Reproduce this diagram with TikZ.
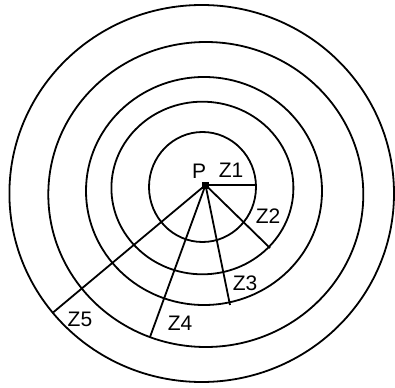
\documentclass[tikz,border=0pt]{standalone}
\usepackage{fontspec}
\setmainfont{Liberation Sans}
\begin{document}
\begin{tikzpicture}[x=1pt,y=-1pt,
  ring/.style={line width=1.8pt},
  ray/.style={line width=1.8pt},
  lab/.style={font=\fontsize{21}{21}\selectfont, inner sep=0pt},
  centre/.style={fill=black, draw=none, minimum size=7pt, inner sep=0pt}]
\useasboundingbox (0,0) rectangle (395,387);
\fill[white] (0,0) rectangle (395,387);
% rings
\draw[ring] (202.5,187) ellipse [x radius=53.5pt, y radius=55pt];
\draw[ring] (202.4,188) ellipse [x radius=91pt, y radius=86.3pt];
\draw[ring] (204,191) ellipse [x radius=118pt, y radius=114pt];
\draw[ring] (205.8,194.5) ellipse [x radius=157.5pt, y radius=152.5pt];
\draw[ring] (201.7,193.5) ellipse [x radius=192.3pt, y radius=188.5pt];
% centre
\node[centre] (P) at (205.5,185) {};
\coordinate (e1) at (256.5,185);
\coordinate (e2) at (270,248);
\coordinate (e3) at (230,305);
\coordinate (e4) at (150,337);
\coordinate (e5) at (53.3,312.3);
\draw[ray] (P.center) -- (e1);
\draw[ray] (P.center) -- (e2);
\draw[ray] (P.center) -- (e3);
\draw[ray] (P.center) -- (e4);
\draw[ray] (P.center) -- (e5);
% labels
\node[lab] (lP) at (199,171) {P};
\node[lab] (l1) at (231,170) {Z1};
\node[lab] (l2) at (268,216) {Z2};
\node[lab] (l3) at (245,283) {Z3};
\node[lab] (l4) at (180,323) {Z4};
\node[lab] (l5) at (80,319) {Z5};
\end{tikzpicture}
\end{document}
